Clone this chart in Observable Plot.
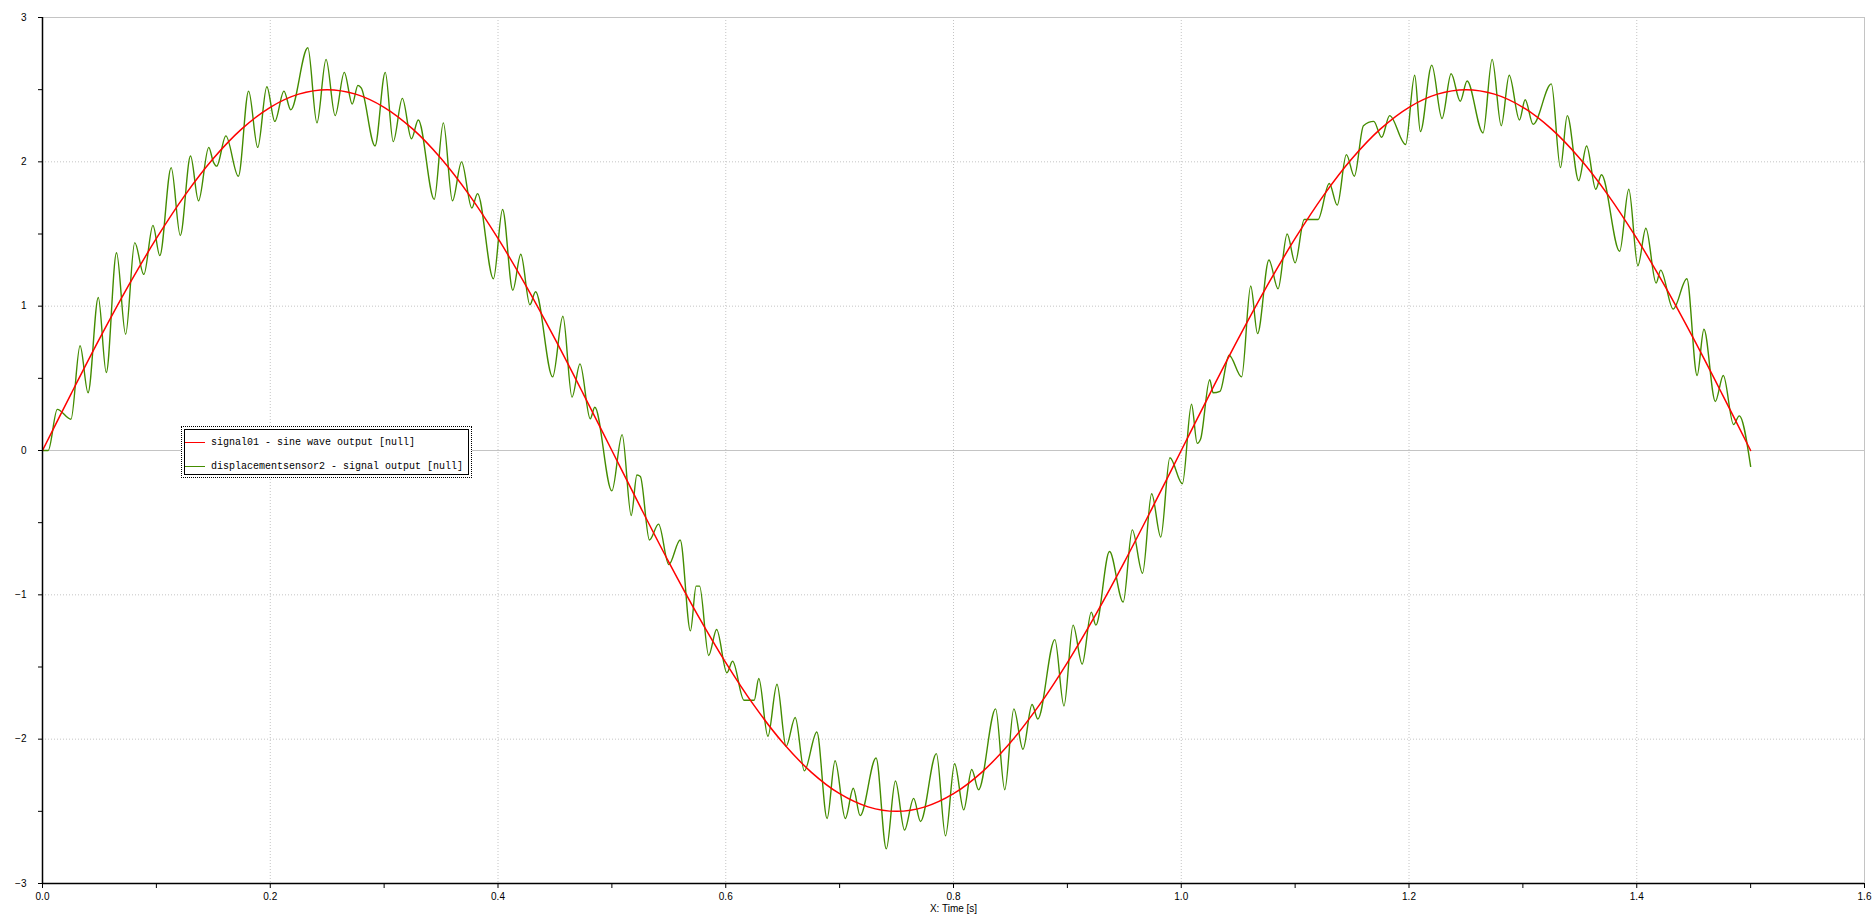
<!DOCTYPE html>
<html>
<head>
<meta charset="utf-8">
<script src="https://cdn.jsdelivr.net/npm/d3@7"></script>
<script src="https://cdn.jsdelivr.net/npm/@observablehq/plot@0.6"></script>
<style>
html, body { margin: 0; padding: 0; background: #fff; overflow: hidden; }
#wrap { position: relative; width: 1872px; height: 915px; }
#legend { position: absolute; left: 181px; top: 426px; width: 291px; height: 52px; border: 1px dotted #000; background: #fff; box-sizing: border-box; }
#legend .inner { position: absolute; left: 2px; top: 2px; right: 2px; bottom: 2px; border: 1px solid #000; }
#legend .row { position: absolute; left: 3px; height: 14px; display: flex; align-items: center; font: 10px "Liberation Mono", "DejaVu Sans Mono", monospace; color: #000; white-space: nowrap; }
#legend .sw { width: 20px; height: 0; border-top: 1.5px solid; margin-right: 6px; }
</style>
</head>
<body>
<div id="wrap"></div>
<script>
// ---- data ----
const sineT = [0, 0.025, 0.05, 0.075, 0.1, 0.125, 0.15, 0.175, 0.2, 0.225, 0.25, 0.275, 0.3, 0.325, 0.35, 0.375, 0.4, 0.425, 0.45, 0.475,
  0.5, 0.525, 0.55, 0.575, 0.6, 0.625, 0.65, 0.675, 0.7, 0.725, 0.75, 0.775, 0.8, 0.825, 0.85, 0.875, 0.9, 0.925, 0.95, 0.975,
  1.0, 1.025, 1.05, 1.075, 1.1, 1.125, 1.15, 1.175, 1.2, 1.225, 1.25, 1.275, 1.3, 1.325, 1.35, 1.375, 1.4, 1.425, 1.45, 1.475, 1.5];
const sineV = [0, 0.391, 0.773, 1.135, 1.469, 1.768, 2.023, 2.228, 2.378, 2.469, 2.5, 2.469, 2.378, 2.228, 2.023, 1.768, 1.469, 1.135, 0.773, 0.391,
  0, -0.391, -0.773, -1.135, -1.469, -1.768, -2.023, -2.228, -2.378, -2.469, -2.5, -2.469, -2.378, -2.228, -2.023, -1.768, -1.469, -1.135, -0.773, -0.391,
  0, 0.391, 0.773, 1.135, 1.469, 1.768, 2.023, 2.228, 2.378, 2.469, 2.5, 2.469, 2.378, 2.228, 2.023, 1.768, 1.469, 1.135, 0.773, 0.391, 0];

const sensorT = [0, 0.005, 0.013, 0.025, 0.033, 0.040, 0.049, 0.056, 0.065, 0.073, 0.081, 0.089, 0.097, 0.103, 0.113, 0.121, 0.130, 0.137, 0.146, 0.150, 0.153, 0.161, 0.172,
  0.181, 0.189, 0.197, 0.204, 0.212, 0.218, 0.233, 0.241, 0.249, 0.257, 0.265, 0.272, 0.277, 0.280, 0.292, 0.301, 0.308, 0.316, 0.324, 0.330,
  0.344, 0.352, 0.360, 0.368, 0.377, 0.382, 0.396, 0.404, 0.413, 0.420, 0.428, 0.433, 0.448, 0.457, 0.465, 0.472, 0.481, 0.485, 0.500,
  0.509, 0.517, 0.522, 0.525, 0.533, 0.541, 0.550, 0.560, 0.569, 0.574, 0.577, 0.585, 0.592, 0.601, 0.606, 0.616, 0.625, 0.629,
  0.637, 0.645, 0.653, 0.661, 0.669,
  0.680, 0.689, 0.696, 0.705, 0.712, 0.718, 0.732, 0.741, 0.749, 0.757, 0.765, 0.771, 0.785, 0.793, 0.801, 0.809, 0.816, 0.822, 0.837,
  0.845, 0.853, 0.861, 0.869, 0.874, 0.889, 0.897, 0.905, 0.913, 0.921, 0.925,
  0.937, 0.949, 0.957, 0.966, 0.974, 0.982, 0.990,
  1.001, 1.009, 1.014, 1.017, 1.025, 1.028, 1.034, 1.042, 1.053, 1.061, 1.067, 1.077, 1.085,
  1.093, 1.100, 1.108, 1.120, 1.130, 1.137, 1.145, 1.152, 1.160,
  1.169, 1.176, 1.183, 1.197, 1.205, 1.210, 1.220, 1.229, 1.237, 1.245, 1.251, 1.265, 1.273, 1.281, 1.288, 1.297, 1.302, 1.309, 1.325, 1.333,
  1.339, 1.349, 1.356, 1.364, 1.369, 1.385, 1.393, 1.401, 1.408, 1.417, 1.421, 1.432, 1.444, 1.453, 1.459, 1.469, 1.476, 1.485, 1.490, 1.500];
const sensorV = [0, 0, 0.285, 0.217, 0.726, 0.40, 1.06, 0.54, 1.37, 0.805, 1.44, 1.22, 1.56, 1.35, 1.96, 1.49, 2.04, 1.73, 2.10, 2.00, 1.97, 2.18, 1.90,
  2.49, 2.10, 2.52, 2.28, 2.49, 2.36, 2.79, 2.27, 2.71, 2.32, 2.62, 2.40, 2.53, 2.51, 2.11, 2.62, 2.14, 2.44, 2.16, 2.29,
  1.74, 2.27, 1.73, 2.00, 1.68, 1.78, 1.19, 1.67, 1.11, 1.36, 1.01, 1.10, 0.51, 0.93, 0.37, 0.60, 0.22, 0.30, -0.28,
  0.11, -0.45, -0.17, -0.18, -0.62, -0.51, -0.79, -0.62, -1.25, -0.94, -0.94, -1.42, -1.24, -1.54, -1.46, -1.73, -1.73, -1.58,
  -1.98, -1.62, -2.05, -1.85, -2.22,
  -1.95, -2.55, -2.15, -2.55, -2.34, -2.53, -2.13, -2.76, -2.29, -2.63, -2.41, -2.57, -2.10, -2.67, -2.17, -2.49, -2.21, -2.35, -1.79,
  -2.35, -1.79, -2.07, -1.76, -1.86, -1.31, -1.77, -1.21, -1.48, -1.12, -1.21,
  -0.70, -1.05, -0.55, -0.85, -0.30, -0.60, -0.05,
  -0.23, 0.32, 0.05, 0.08, 0.49, 0.40, 0.41, 0.66, 0.51, 1.14, 0.81, 1.32, 1.12,
  1.50, 1.30, 1.60, 1.60, 1.85, 1.70, 2.05, 1.90, 2.25,
  2.28, 2.17, 2.32, 2.12, 2.60, 2.21, 2.67, 2.30, 2.61, 2.42, 2.56, 2.20, 2.71, 2.25, 2.60, 2.29, 2.43, 2.26, 2.54, 1.96,
  2.32, 1.87, 2.11, 1.81, 1.91, 1.38, 1.81, 1.28, 1.54, 1.16, 1.25, 0.98, 1.19, 0.52, 0.84, 0.34, 0.52, 0.18, 0.24, -0.11];

const xMajorTicks = [0, 0.2, 0.4, 0.6, 0.8, 1.0, 1.2, 1.4, 1.6];
const xMinorTicks = [0.1, 0.3, 0.5, 0.7, 0.9, 1.1, 1.3, 1.5];
const yMajorTicks = [-3, -2, -1, 0, 1, 2, 3];
const yMinorTicks = [-2.5, -1.5, -0.5, 0.5, 1.5, 2.5];
const legendLabels = ["signal01 - sine wave output [null]", "displacementsensor2 - signal output [null]"];
const seriesColors = ["#ff0000", "#448c00"];
const xAxisTitle = "X: Time [s]";

// ---- tables built from the arrays ----
const sine = sineT.map((t, i) => ({t, v: sineV[i]}));
const sensor = sensorT.map((t, i) => ({t, v: sensorV[i]}));

const gridCol = "#c4c4c4";
const chart = Plot.plot({
  width: 1872,
  height: 915,
  marginLeft: 42,
  marginRight: 8,
  marginTop: 17,
  marginBottom: 32,
  style: {fontFamily: "'Liberation Sans', 'DejaVu Sans', sans-serif", fontSize: "10px", background: "#fff", color: "#000"},
  x: {domain: [0, 1.6], label: null},
  y: {domain: [-3, 3], label: null},
  marks: [
    // dotted grid
    Plot.ruleX(xMajorTicks.filter(d => d > 0 && d < 1.6), {stroke: gridCol, strokeDasharray: "1,2", strokeWidth: 1}),
    Plot.ruleY(yMajorTicks.filter(d => d !== 0 && Math.abs(d) < 3), {stroke: gridCol, strokeDasharray: "1,2", strokeWidth: 1}),
    // solid frame lines and zero line
    Plot.ruleY([0, 3], {stroke: gridCol, strokeWidth: 1}),
    Plot.ruleX([1.6], {stroke: gridCol, strokeWidth: 1}),
    // series
    Plot.line(sensor, {x: "t", y: "v", stroke: seriesColors[1], strokeWidth: 1.4, curve: "monotone-x"}),
    Plot.line(sine, {x: "t", y: "v", stroke: seriesColors[0], strokeWidth: 1.5, curve: "catmull-rom"}),
    // axes
    Plot.axisY(yMajorTicks, {anchor: "left", tickSize: 4, tickPadding: 12, tickFormat: d => String(d).replace("-", "\u2212"), label: null}),
    Plot.axisY(yMinorTicks, {anchor: "left", tickSize: 4, tickFormat: () => "", label: null}),
    Plot.axisX(xMajorTicks, {anchor: "bottom", tickSize: 5, tickPadding: 4, tickFormat: d => d.toFixed(1), label: null}),
    Plot.axisX(xMinorTicks, {anchor: "bottom", tickSize: 5, tickFormat: () => "", label: null}),
    Plot.ruleX([0], {stroke: "#000", strokeWidth: 1.5}),
    Plot.ruleY([-3], {stroke: "#000", strokeWidth: 1.5}),
    Plot.text([xAxisTitle], {frameAnchor: "bottom", dy: 28, text: d => d, fontSize: 10})
  ]
});

const wrap = document.getElementById("wrap");
wrap.appendChild(chart);

// legend (inside plot area, overlaid)
const lg = document.createElement("div");
lg.id = "legend";
const inner = document.createElement("div");
inner.className = "inner";
lg.appendChild(inner);
legendLabels.forEach((lab, i) => {
  const row = document.createElement("div");
  row.className = "row";
  row.style.top = (8 + i * 24) + "px";
  const sw = document.createElement("span");
  sw.className = "sw";
  sw.style.borderTopColor = seriesColors[i];
  const tx = document.createElement("span");
  tx.textContent = lab;
  row.appendChild(sw);
  row.appendChild(tx);
  lg.appendChild(row);
});
wrap.appendChild(lg);
</script>
</body>
</html>
